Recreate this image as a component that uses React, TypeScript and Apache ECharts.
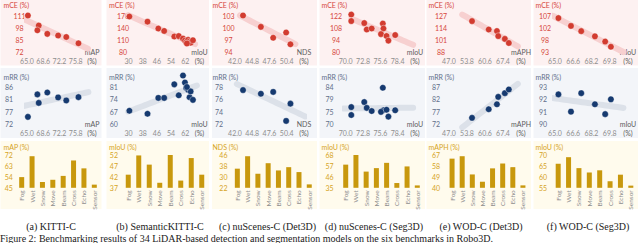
import React, { useEffect, useRef } from "react";
import * as echarts from "echarts";

// ---------- data ----------
const CORRUPTIONS = ["Fog", "Wet", "Snow", "Move", "Beam", "Cross", "Echo", "Sensor"];

// (a) KITTI-C
const kittiMAP = [65.2, 67.6, 67.3, 69.5, 71.9, 73.7, 76.4];
const kittiMCE = [111.0, 100.3, 95.2, 91.4, 89.6, 88.0, 81.3];
const kittiMRR = [74.6, 79.7, 82.8, 83.5, 81.7, 80.6, 81.8];
const kittiBar = [53.8, 71.0, 49.8, 51.6, 54.8, 67.5, 61.0, 47.6];
const kittiXTicks = [65.0, 68.6, 72.2, 75.8, 79.4];
const kittiMceTicks = [72, 85, 98, 111];
const kittiMrrTicks = [72, 76.5, 81, 85.5];
const kittiBarTicks = [45, 54, 63, 72];

// (b) SemanticKITTI-C
const skMIoU = [30.5, 40.7, 46.8, 50.1, 55.8, 58.3, 60.7, 61.8, 62.5, 63.6, 64.4, 65.0, 66.3, 62.9];
const skMCE = [167.5, 154.8, 137.8, 131.9, 118.2, 119.2, 113.0, 108.0, 104.0, 110.0, 106.0, 103.0, 109.0, 101.0];
const skMRR = [67.5, 65.8, 74.8, 74.8, 82.5, 76.3, 87.5, 83.5, 80.5, 79.4, 75.2, 78.5, 73.7, 81.0];
const skBar = [43.0, 51.8, 47.6, 39.3, 52.5, 40.3, 50.6, 43.0];
const skXTicks = [30, 38, 46, 54, 62, 70];
const skMceTicks = [80, 110, 140, 170];
const skMrrTicks = [60, 67, 74, 81];
const skBarTicks = [37, 42, 47, 52];

// (c) nuScenes-C (Det3D)
const nd3NDS = [43.3, 46.2, 48.2, 50.3, 51.0];
const nd3MCE = [103.0, 100.2, 97.5, 98.8, 95.9];
const nd3MRR = [77.5, 76.9, 77.2, 72.5, 75.3];
const nd3Bar = [36.0, 45.1, 32.3, 40.0, 34.7, 37.1, 33.5, 24.5];
const nd3XTicks = [42.0, 44.8, 47.6, 50.4, 53.2];
const nd3MceTicks = [94, 97, 100, 103];
const nd3MrrTicks = [72, 74, 76, 78];
const nd3BarTicks = [22, 30, 38, 46];

// (d) nuScenes-C (Seg3D)
const ns3MIoU = [70.9, 70.9, 73.0, 73.4, 74.2, 76.0, 76.1, 75.7, 76.6, 76.9, 78.0];
const ns3MCE = [123.1, 115.6, 113.3, 105.9, 107.0, 112.7, 107.0, 100.6, 98.4, 93.1, 99.5];
const ns3MRR = [76.4, 73.4, 78.3, 76.1, 74.9, 83.7, 75.2, 74.6, 75.4, 72.8, 75.2];
const ns3Bar = [58.3, 69.8, 51.3, 54.8, 60.1, 39.8, 56.5, 37.4];
const ns3XTicks = [70.0, 72.8, 75.6, 78.4, 81.2];
const ns3MceTicks = [80, 94, 108, 122];
const ns3MrrTicks = [70, 74.6667, 79.3333, 84];
const ns3BarTicks = [35, 46, 57, 68];

// (e) WOD-C (Det3D)
const wdMAPH = [55.7, 62.0, 65.1, 65.6, 68.1, 69.6];
const wdMCE = [121.0, 112.0, 110.4, 105.0, 102.0, 97.6];
const wdMRR = [74.5, 78.0, 80.0, 83.0, 84.5, 86.0];
const wdBar = [64.0, 66.0, 51.0, 45.0, 56.0, 60.0, 57.0, 42.0];
const wdXTicks = [47.0, 53.8, 60.6, 67.4, 74.2];
const wdMceTicks = [88, 101, 114, 127];
const wdMrrTicks = [72, 77, 82, 87];
const wdBarTicks = [40, 49, 58, 67];

// (f) WOD-C (Seg3D)
const wsMIoU = [65.3, 66.4, 67.3, 68.5, 69.4, 69.9];
const wsMCE = [106.0, 103.0, 101.0, 99.0, 97.0, 95.0];
const wsMRR = [92.4, 91.0, 92.5, 91.6, 90.8, 92.0];
const wsBar = [66.0, 69.0, 64.0, 62.0, 63.0, 58.0, 61.0, 56.0];
const wsXTicks = [65.0, 66.6, 68.2, 69.8, 71.4];
const wsMceTicks = [93, 97.6667, 102.3333, 107];
const wsMrrTicks = [90, 91, 92, 93];
const wsBarTicks = [55, 60, 65, 70];

// ---------- layout / style ----------
const FONT = "Lato, 'Open Sans', sans-serif";
const SERIF = "'Liberation Serif', 'DejaVu Serif', serif";
const GREY = "#8e8e8e";
const DARK = "#5c5c5c";

const ROWS = [
  { top: 15.5, bottom: 52, nameY: 4.5, bg: [0, 65.5], bgColor: "#fdf1f1", label: "#d6473c", mark: "#d23c30", trend: "#f7d0d0" },
  { top: 87, bottom: 124, nameY: 77, bg: [68, 138], bgColor: "#f3f5f9", label: "#5f6f8a", mark: "#163a70", trend: "#dce1e9" },
  { top: 155, bottom: 187.8, nameY: 147.3, bg: [141, 209], bgColor: "#fffbed", label: "#d6a41e", mark: "#c8980d", trend: "" },
];

const LAYOUTS = [
  { bg: [0.5, 101.5], sL: 27, sR: 92, bL: 16.5, bR: 99.5, lab: [19.5, 9, 8.7], nameX: 3.5, capX: 51 },
  { bg: [106.5, 209], sL: 128.5, sR: 199.5, bL: 123, bR: 207, lab: [123, 113.7, 113.9], nameX: 109, capX: 160 },
  { bg: [212, 317], sL: 235, sR: 304, bL: 232.2, bR: 314.4, lab: [228.5, 219, 223.4], nameX: 212.5, capX: 267.5 },
  { bg: [319.5, 425], sL: 345.7, sR: 415, bL: 340.6, bR: 422.4, lab: [336, 329.6, 329.6], nameX: 321.5, capX: 374 },
  { bg: [426.5, 531], sL: 449, sR: 521, bL: 447, bR: 528, lab: [441, 436, 436], nameX: 428.5, capX: 481 },
  { bg: [533.5, 638], sL: 555, sR: 628, bL: 553, bR: 636, lab: [545, 543, 543], nameX: 535.5, capX: 588 },
];

const PANELS = [
  { caption: "(a) KITTI-C", xName: "mAP", barName: "mAP (%)", x: kittiMAP, mce: kittiMCE, mrr: kittiMRR, bars: kittiBar,
    xTicks: kittiXTicks, mceTicks: kittiMceTicks, mrrTicks: kittiMrrTicks, barTicks: kittiBarTicks, xDec: 1,
    t1: [64.1, 78.5], t2: [63.5, 78.6], deg1: 1 },
  { caption: "(b) SemanticKITTI-C", xName: "mIoU", barName: "mIoU (%)", x: skMIoU, mce: skMCE, mrr: skMRR, bars: skBar,
    xTicks: skXTicks, mceTicks: skMceTicks, mrrTicks: skMrrTicks, barTicks: skBarTicks, xDec: 0,
    t1: [30, 67.5], t2: [29.8, 68.5], deg1: 2 },
  { caption: "(c) nuScenes-C (Det3D)", xName: "NDS", barName: "NDS (%)", x: nd3NDS, mce: nd3MCE, mrr: nd3MRR, bars: nd3Bar,
    xTicks: nd3XTicks, mceTicks: nd3MceTicks, mrrTicks: nd3MrrTicks, barTicks: nd3BarTicks, xDec: 1,
    t1: [42.8, 51.8], t2: [42.3, 53.4], deg1: 1 },
  { caption: "(d) nuScenes-C (Seg3D)", xName: "mIoU", barName: "mIoU (%)", x: ns3MIoU, mce: ns3MCE, mrr: ns3MRR, bars: ns3Bar,
    xTicks: ns3XTicks, mceTicks: ns3MceTicks, mrrTicks: ns3MrrTicks, barTicks: ns3BarTicks, xDec: 1,
    t1: [70.9, 80.9], t2: [69.6, 80.9], deg1: 1 },
  { caption: "(e) WOD-C (Det3D)", xName: "mAPH", barName: "mAPH (%)", x: wdMAPH, mce: wdMCE, mrr: wdMRR, bars: wdBar,
    xTicks: wdXTicks, mceTicks: wdMceTicks, mrrTicks: wdMrrTicks, barTicks: wdBarTicks, xDec: 1,
    t1: [52, 73], t2: [52, 73], deg1: 1 },
  { caption: "(f) WOD-C (Seg3D)", xName: "mIoU", barName: "mIoU (%)", x: wsMIoU, mce: wsMCE, mrr: wsMRR, bars: wsBar,
    xTicks: wsXTicks, mceTicks: wsMceTicks, mrrTicks: wsMrrTicks, barTicks: wsBarTicks, xDec: 1,
    t1: [64.8, 71], t2: [64.8, 71], deg1: 1 },
];

// least squares polynomial fit (centered)
function polyfit(xs: number[], ys: number[], deg: number) {
  const m = xs.reduce((a, b) => a + b, 0) / xs.length;
  const n = deg + 1;
  const A: number[][] = Array.from({ length: n }, () => new Array(n + 1).fill(0));
  for (let k = 0; k < xs.length; k++) {
    const u = xs[k] - m;
    for (let i = 0; i < n; i++) {
      for (let j = 0; j < n; j++) A[i][j] += Math.pow(u, i + j);
      A[i][n] += ys[k] * Math.pow(u, i);
    }
  }
  for (let i = 0; i < n; i++) {
    let p = i;
    for (let r = i + 1; r < n; r++) if (Math.abs(A[r][i]) > Math.abs(A[p][i])) p = r;
    const tmp = A[i]; A[i] = A[p]; A[p] = tmp;
    for (let r = 0; r < n; r++) {
      if (r === i) continue;
      const f = A[r][i] / A[i][i];
      for (let c = i; c <= n; c++) A[r][c] -= f * A[i][c];
    }
  }
  const coef = A.map((row, i) => row[n] / row[i]);
  return (x: number) => coef.reduce((s, c, i) => s + c * Math.pow(x - m, i), 0);
}

function trend(xs: number[], ys: number[], deg: number, range: number[]) {
  const f = polyfit(xs, ys, deg);
  const out: number[][] = [];
  const N = 24;
  for (let i = 0; i <= N; i++) {
    const x = range[0] + ((range[1] - range[0]) * i) / N;
    out.push([x, f(x)]);
  }
  return out;
}

const near = (a: number, b: number) => Math.abs(a - b) < 1e-6;

function buildOption() {
  const grid: any[] = [];
  const xAxis: any[] = [];
  const yAxis: any[] = [];
  const series: any[] = [];
  const graphic: any[] = [];

  PANELS.forEach((p, pi) => {
    const L = LAYOUTS[pi];
    ROWS.forEach((row, ri) => {
      graphic.push({
        type: "rect", z: -10, silent: true,
        shape: { x: L.bg[0], y: row.bg[0], width: L.bg[1] - L.bg[0], height: row.bg[1] - row.bg[0] },
        style: { fill: row.bgColor },
      });
      const nm = ri === 0 ? "mCE (%)" : ri === 1 ? "mRR (%)" : p.barName;
      graphic.push({
        type: "text", silent: true, x: L.nameX, y: row.nameY,
        style: { text: nm, fill: row.label, fontSize: 7, fontFamily: FONT,
          align: "left", verticalAlign: "middle", textAlign: "left", textVerticalAlign: "middle" },
      });

      const gi = grid.length;
      const isBar = ri === 2;
      const left = isBar ? L.bL : L.sL;
      const right = isBar ? L.bR : L.sR;
      grid.push({ left, top: row.top, width: right - left, height: row.bottom - row.top, outerBoundsMode: "none" });

      const yt = ri === 0 ? p.mceTicks : ri === 1 ? p.mrrTicks : p.barTicks;
      yAxis.push({
        gridIndex: gi, type: "value", min: yt[0], max: yt[yt.length - 1],
        axisLine: { show: false }, axisTick: { show: false }, splitLine: { show: false },
        axisLabel: {
          customValues: yt, align: "center", margin: left - L.lab[ri],
          fontSize: 7, fontFamily: FONT, color: row.label,
          formatter: (v: number) => v.toFixed(0),
        },
      });

      if (isBar) {
        xAxis.push({
          gridIndex: gi, type: "category", data: CORRUPTIONS,
          axisLine: { show: false }, axisTick: { show: false }, splitLine: { show: false },
          axisLabel: { interval: 0, rotate: 90, margin: 2.5, fontSize: 6.5, fontFamily: FONT, color: GREY },
        });
        series.push({
          type: "bar", xAxisIndex: gi, yAxisIndex: gi, data: p.bars, barWidth: 5,
          itemStyle: { color: row.mark }, silent: true,
        });
      } else {
        const xt = p.xTicks;
        const last = xt[xt.length - 1];
        xAxis.push({
          gridIndex: gi, type: "value", min: xt[0], max: last,
          axisLine: { show: false }, axisTick: { show: false }, splitLine: { show: false },
          axisLabel: {
            customValues: xt, margin: 5.5, fontSize: 7, fontFamily: FONT, color: GREY,
            formatter: (v: number) => (near(v, last) ? "{u|(%)}" : v.toFixed(p.xDec)),
            rich: { u: { color: DARK, fontSize: 7, fontFamily: FONT } },
          },
          name: p.xName, nameLocation: "end", nameGap: 0,
          nameTextStyle: { align: "center", verticalAlign: "middle", padding: [2, 0, 0, 0], fontSize: 7, fontFamily: FONT, color: DARK },
        });
        const ys = ri === 0 ? p.mce : p.mrr;
        const deg = ri === 0 ? p.deg1 : 1;
        const rng = ri === 0 ? p.t1 : p.t2;
        series.push({
          type: "line", xAxisIndex: gi, yAxisIndex: gi, data: trend(p.x, ys, deg, rng),
          showSymbol: false, symbol: "none", smooth: false, clip: false, silent: true, z: 1,
          lineStyle: { width: 6, color: row.trend, cap: "round", join: "round" },
        });
        series.push({
          type: "scatter", xAxisIndex: gi, yAxisIndex: gi,
          data: p.x.map((x, i) => [x, ys[i]]),
          symbolSize: 6.5, clip: false, silent: true, z: 3,
          itemStyle: { color: row.mark, borderColor: "#ffffff", borderWidth: 0.4, opacity: 1 },
        });
      }
    });

    graphic.push({
      type: "text", silent: true, x: L.capX, y: 226.5,
      style: { text: p.caption, fill: "#1a1a1a", fontSize: 10, fontFamily: SERIF,
        align: "center", verticalAlign: "middle", textAlign: "center", textVerticalAlign: "middle" },
    });
  });

  graphic.push({
    type: "text", silent: true, x: 0, y: 243,
    style: {
      text: "Figure 2: Benchmarking results of 34 LiDAR-based detection and segmentation models on the six benchmarks in Robo3D.",
      fill: "#1a1a1a", fontSize: 10, fontFamily: SERIF,
      align: "left", verticalAlign: "bottom", textAlign: "left", textVerticalAlign: "bottom",
    },
  });

  return { animation: false, grid, xAxis, yAxis, series, graphic };
}

export default function App() {
  const ref = useRef<HTMLDivElement>(null);
  useEffect(() => {
    document.body.style.margin = "0";
    const chart = echarts.init(ref.current as HTMLDivElement, null, { renderer: "svg", width: 640, height: 243 });
    chart.setOption(buildOption() as any);
    return () => chart.dispose();
  }, []);
  return <div ref={ref} style={{ width: 640, height: 243 }} />;
}
